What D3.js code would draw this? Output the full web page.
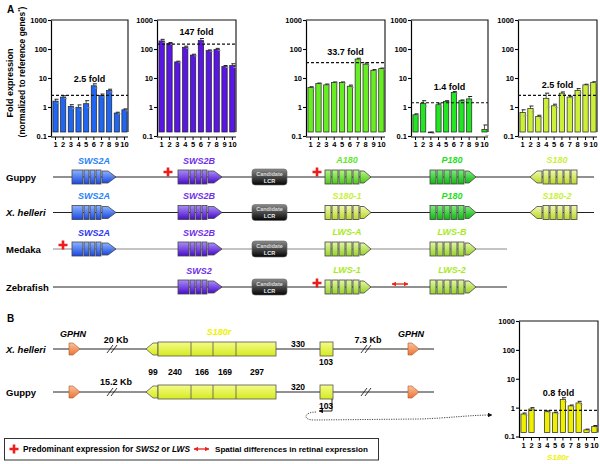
<!DOCTYPE html>
<html><head><meta charset="utf-8">
<script src="https://cdn.jsdelivr.net/npm/d3@7"></script>
<style>
body{margin:0;background:#fff}
svg text{font-family:"Liberation Sans",Arial,sans-serif;font-weight:bold}
</style>
</head><body>
<svg id="fig" width="600" height="464"></svg>
<script>
// ---------------- DATA ----------------
const barLabels = ["1","2","3","4","5","6","7","8","9","10"];
const yTickValues = [0.1, 1, 10, 100, 1000];
const sws2aValues = [1.6, 2.2, 1.05, 0.98, 1.3, 5.4, 2.5, 3.7, 0.62, 0.8];
const sws2aErrors = [0.25, 0.25, 0.15, 0.2, 0.35, 0.9, 0.3, 0.4, 0.04, 0.06];
const sws2bValues = [190, 155, 36, 115, 62, 195, 88, 97, 25, 27];
const sws2bErrors = [25, 12, 2, 10, 4, 35, 5, 8, 2, 4];
const a180Values = [4.7, 6.4, 5.8, 7.0, 7.0, 5.2, 45, 30, 18.5, 21];
const a180Errors = [0.3, 0.3, 0.4, 0.3, 0.3, 0.5, 3, 3, 1, 1];
const p180Values = [0.54, 1.35, 0.13, 1.2, 1.55, 3.2, 1.65, 1.9, null, 0.17];
const p180Errors = [0.04, 0.3, 0.005, 0.15, 0.1, 0.2, 0.1, 0.4, null, 0.07];
const s180Values = [0.65, 0.88, 0.47, 2.0, 1.1, 3.0, 2.2, 3.7, 5.8, 7.1];
const s180Errors = [0.15, 0.2, 0.05, 1.0, 0.15, 0.3, 0.15, 0.6, 0.3, 0.3];
const s180rValues = [0.6, 0.9, null, 0.72, 0.66, 1.9, 1.15, 1.45, 0.17, 0.22];
const s180rErrors = [0.05, 0.1, null, 0.05, 0.04, 0.3, 0.08, 0.2, 0.01, 0.02];
const foldValues = [2.5, 147, 33.7, 1.4, 2.5, 0.8];
const foldLabels = ["2.5 fold", "147 fold", "33.7 fold", "1.4 fold", "2.5 fold", "0.8 fold"];

const speciesA = ["Guppy", "X. helleri", "Medaka", "Zebrafish"];
const sws2GeneNames = [["SWS2A", "SWS2B"], ["SWS2A", "SWS2B"], ["SWS2A", "SWS2B"], [null, "SWS2"]];
const lwsGeneNames = [["A180", "P180", "S180"], ["S180-1", "P180", "S180-2"], ["LWS-A", "LWS-B", null], ["LWS-1", "LWS-2", null]];
const speciesB = ["X. helleri", "Guppy"];
const intronLabels = ["330", "320"];
const distanceLeft = ["20 Kb", "15.2 Kb"];
const distanceRight = ["7.3 Kb", null];
const exonSizes = ["99", "240", "166", "169", "297"];
const lastExonSize = "103";

// ---------------- DRAW ----------------
const svg = d3.select("#fig");
const defs = svg.append("defs");
function grad(id, light, dark) {
  const g = defs.append("linearGradient").attr("id", id).attr("x1", 0).attr("y1", 0).attr("x2", 0).attr("y2", 1);
  g.append("stop").attr("offset", "0%").attr("stop-color", light);
  g.append("stop").attr("offset", "100%").attr("stop-color", dark);
}
grad("gA", "#8cb4ff", "#1a48e0");
grad("gB", "#a88cf8", "#4a0ccc");
grad("gA180", "#b6f486", "#4cc81a");
grad("gP180", "#80ea80", "#10b810");
grad("gS180", "#f0f8b0", "#bcd82a");
grad("gLWS", "#e4f6a6", "#96d22a");
grad("gS180r", "#f4fc8a", "#d6ea1e");
grad("gGPHN", "#fcc09a", "#ee7434");
grad("gLCR", "#8a8a8a", "#050505");
defs.append("marker").attr("id", "ah").attr("viewBox", "0 0 10 10").attr("refX", 9).attr("refY", 5)
  .attr("markerWidth", 5).attr("markerHeight", 5).attr("orient", "auto-start-reverse")
  .append("path").attr("d", "M0,0L10,5L0,10z").attr("fill", "#111");
defs.append("marker").attr("id", "ahr").attr("viewBox", "0 0 10 10").attr("refX", 9).attr("refY", 5)
  .attr("markerWidth", 3.5).attr("markerHeight", 3.5).attr("orient", "auto-start-reverse")
  .append("path").attr("d", "M0,0L10,5L0,10z").attr("fill", "#e8251a");

const charts = [
  {v: sws2aValues, e: sws2aErrors, x0: 51, x1: 128, top: 20, bot: 136, fill: "#1f66f2", ly: 82},
  {v: sws2bValues, e: sws2bErrors, x0: 157, x1: 236, top: 20, bot: 136, fill: "#5a16e4", ly: 35},
  {v: a180Values, e: a180Errors, x0: 306, x1: 385, top: 20, bot: 136, fill: "#66ee22", ly: 55},
  {v: p180Values, e: p180Errors, x0: 411, x1: 488, top: 20, bot: 136, fill: "#22e622", ly: 90},
  {v: s180Values, e: s180Errors, x0: 518, x1: 597, top: 20, bot: 136, fill: "#ccf03a", ly: 88},
  {v: s180rValues, e: s180rErrors, x0: 519, x1: 598, top: 321, bot: 436.5, fill: "#eef000", ly: 396}
];

charts.forEach((c, ci) => {
  const g = svg.append("g");
  const y = d3.scaleLog().domain([0.1, 1000]).range([c.bot, c.top]);
  const x = d3.scaleBand().domain(barLabels).range([c.x0 + 1, c.x1]).paddingInner(0.32).paddingOuter(0.12);
  const base = c.bot - 4;
  g.append("path").attr("d", `M${c.x0},${c.top}H${c.x1}V${base}`).attr("fill", "none").attr("stroke", "#111").attr("stroke-width", 1.1);
  const data = c.v.map((v, i) => ({k: barLabels[i], v, e: c.e[i]})).filter(d => d.v != null);
  g.selectAll("rect.bar").data(data).join("rect").attr("class", "bar")
    .attr("x", d => x(d.k)).attr("width", x.bandwidth())
    .attr("y", d => Math.min(y(d.v), base)).attr("height", d => Math.max(0.8, Math.abs(base - y(d.v))))
    .attr("fill", c.fill).attr("stroke", "#222").attr("stroke-width", 0.7);
  data.forEach(d => {
    const cx = x(d.k) + x.bandwidth() / 2;
    const yt = y(d.v + d.e), yb = y(Math.max(0.105, d.v - d.e));
    g.append("line").attr("x1", cx).attr("x2", cx).attr("y1", y(d.v)).attr("y2", yt).attr("stroke", "#333").attr("stroke-width", 0.8);
    g.append("line").attr("x1", cx - 1).attr("x2", cx + 3).attr("y1", yt).attr("y2", yt).attr("stroke", "#222").attr("stroke-width", 1);
    g.append("line").attr("x1", cx + 1).attr("x2", cx + 4).attr("y1", yb).attr("y2", yb).attr("stroke", "#999").attr("stroke-width", 0.8);
  });
  const ya = g.append("g").attr("transform", `translate(${c.x0},0)`)
    .call(d3.axisLeft(y).tickValues(yTickValues).tickFormat(d3.format("~g")).tickSize(3).tickSizeOuter(0));
  ya.select(".domain").attr("stroke-width", 1.2);
  ya.selectAll(".tick line").attr("stroke-width", 1.1);
  ya.selectAll("text").attr("font-size", 7.5).attr("font-family", "Liberation Sans, Arial, sans-serif").attr("font-weight", "bold").attr("x", -4);
  const xa = g.append("g").attr("transform", `translate(0,${c.bot + 1})`)
    .call(d3.axisBottom(x).tickSize(3).tickSizeOuter(0));
  xa.select(".domain").attr("d", `M${c.x0},0H${c.x1}`).attr("stroke-width", 1.1);
  xa.selectAll(".tick line").attr("stroke-width", 1);
  xa.selectAll("text").attr("font-size", 7.5).attr("font-family", "Liberation Sans, Arial, sans-serif").attr("font-weight", "bold").attr("y", 5);
  g.append("line").attr("x1", c.x0).attr("x2", c.x1).attr("y1", y(foldValues[ci])).attr("y2", y(foldValues[ci]))
    .attr("stroke", "#111").attr("stroke-width", 1.2).attr("stroke-dasharray", "3,2");
  g.append("text").attr("x", (c.x0 + c.x1) / 2).attr("y", c.ly).attr("text-anchor", "middle").attr("font-size", 9).text(foldLabels[ci]);
});
svg.append("text").attr("x", 558).attr("y", 460).attr("text-anchor", "middle").attr("font-size", 8)
  .attr("font-style", "italic").attr("fill", "#eef000").text("S180r");

svg.append("text").attr("x", 7).attr("y", 13).attr("font-size", 10).text("A");
svg.append("text").attr("x", 7).attr("y", 322).attr("font-size", 10).text("B");
svg.append("text").attr("transform", "translate(13,83) rotate(-90)").attr("text-anchor", "middle").attr("font-size", 9).text("Fold expression");
const yt2 = svg.append("text").attr("transform", "translate(24.5,72) rotate(-90)").attr("text-anchor", "middle").attr("font-size", 8.5);
yt2.append("tspan").text("(normalized to reference genes");
yt2.append("tspan").attr("font-size", 6).attr("dy", -3).text("*");
yt2.append("tspan").attr("dy", 3).text(")");

function redCross(x, y) {
  svg.append("path").attr("d", `M${x - 4.5},${y}H${x + 4.5}M${x},${y - 4.5}V${y + 4.5}`).attr("stroke", "#ee1c1c").attr("stroke-width", 2.6);
}
function sws2Glyph(x, y, gid) {
  const g = svg.append("g").attr("stroke", "#444").attr("stroke-width", 0.8).attr("fill", `url(#${gid})`);
  [[0, 11], [12, 5], [18, 5], [24, 5]].forEach(([o, w]) => g.append("rect").attr("x", x + o).attr("y", y - 7).attr("width", w).attr("height", 14));
  g.append("path").attr("d", `M${x + 30},${y - 6}H${x + 36}L${x + 44},${y}L${x + 36},${y + 6}H${x + 30}Z`);
}
function lwsGlyph(x, y, gid, dir) {
  const g = svg.append("g").attr("stroke", "#444").attr("stroke-width", 0.8).attr("fill", `url(#${gid})`);
  if (dir > 0) {
    for (let i = 0; i < 5; i++) g.append("rect").attr("x", x + i * 7).attr("y", y - 7).attr("width", 6).attr("height", 14);
    g.append("path").attr("d", `M${x + 35},${y - 6}H${x + 39}L${x + 46},${y}L${x + 39},${y + 6}H${x + 35}Z`);
  } else {
    g.append("path").attr("d", `M${x},${y}L${x + 7},${y - 6}H${x + 12}V${y + 6}H${x + 7}Z`);
    for (let i = 0; i < 5; i++) g.append("rect").attr("x", x + 13 + i * 7).attr("y", y - 7).attr("width", 6).attr("height", 14);
  }
}
function lcr(x, y) {
  svg.append("rect").attr("x", x).attr("y", y - 8).attr("width", 35).attr("height", 16).attr("rx", 3)
    .attr("fill", "url(#gLCR)").attr("stroke", "#666").attr("stroke-width", 0.6);
  svg.append("text").attr("x", x + 17.5).attr("y", y - 1.5).attr("text-anchor", "middle").attr("font-size", 5.5).attr("fill", "#ddd").text("Candidate");
  svg.append("text").attr("x", x + 17.5).attr("y", y + 5.5).attr("text-anchor", "middle").attr("font-size", 5.5).attr("fill", "#eee").text("LCR");
}
function geneLabel(x, y, t, col) {
  svg.append("text").attr("x", x).attr("y", y).attr("text-anchor", "middle").attr("font-size", 9)
    .attr("font-style", "italic").attr("fill", col).text(t);
}

const rowY = [177, 212.5, 249, 287];
const lineEnd = [594, 594, 507, 507];
const lineCol = ["#222", "#222", "#888", "#222"];
const sws2aCol = ["#2a82f5", "#2a82f5", "#3038f0"];
const lwsGrad = [["gA180", "gP180", "gS180"], ["gS180", "gP180", "gS180"], ["gLWS", "gLWS"], ["gLWS", "gLWS"]];
const lwsCol = [["#5ee82a", "#22e020", "#c8f03a"], ["#c8f03a", "#22e020", "#c8f03a"], ["#a8ea22", "#a8ea22"], ["#a8ea22", "#a8ea22"]];
speciesA.forEach((sp, i) => {
  const y = rowY[i];
  svg.append("line").attr("x1", 53).attr("x2", lineEnd[i]).attr("y1", y).attr("y2", y).attr("stroke", lineCol[i]).attr("stroke-width", 1);
  const t = svg.append("text").attr("x", 6).attr("y", y + 3.5).attr("font-size", 9.5).text(sp);
  if (sp.startsWith("X.")) t.attr("font-style", "italic");
  const [a, b] = sws2GeneNames[i];
  if (a) { sws2Glyph(72, y, "gA"); geneLabel(94, y - 13.5, a, sws2aCol[i]); }
  if (b) { sws2Glyph(178, y, "gB"); geneLabel(199, y - 13.5, b, "#7030e8"); }
  lcr(252, y);
  const L = lwsGeneNames[i];
  lwsGlyph(325, y, lwsGrad[i][0], 1); geneLabel(347, y - 14, L[0], lwsCol[i][0]);
  lwsGlyph(430, y, lwsGrad[i][1], 1); geneLabel(452, y - 14, L[1], lwsCol[i][1]);
  if (L[2]) { lwsGlyph(530, y, lwsGrad[i][2], -1); geneLabel(557, y - 14, L[2], lwsCol[i][2]); }
});
redCross(168, 172);
redCross(63, 245);
redCross(317, 172);
redCross(317, 283);
svg.append("line").attr("x1", 392).attr("x2", 408).attr("y1", 284).attr("y2", 284).attr("stroke", "#e8251a").attr("stroke-width", 1.3)
  .attr("marker-start", "url(#ahr)").attr("marker-end", "url(#ahr)");

const rowYB = [349, 392];
function slashes(x, y) {
  svg.append("path").attr("d", `M${x - 6},${y + 4}L${x},${y - 4}M${x - 2},${y + 4}L${x + 4},${y - 4}`)
    .attr("stroke", "#222").attr("stroke-width", 0.9).attr("fill", "none");
}
function gphn(x, y) {
  svg.append("path").attr("d", `M${x},${y - 6}H${x + 4}L${x + 11},${y}L${x + 4},${y + 6}H${x}Z`)
    .attr("fill", "url(#gGPHN)").attr("stroke", "#a05a30").attr("stroke-width", 0.6);
}
speciesB.forEach((sp, i) => {
  const y = rowYB[i];
  svg.append("line").attr("x1", 53).attr("x2", 434).attr("y1", y).attr("y2", y).attr("stroke", "#222").attr("stroke-width", 1);
  const t = svg.append("text").attr("x", 6).attr("y", y + 3.5).attr("font-size", 9.5).text(sp);
  if (sp.startsWith("X.")) t.attr("font-style", "italic");
  gphn(69, y); gphn(408, y);
  slashes(113, y); slashes(367, y);
  svg.append("text").attr("x", 116).attr("y", y - (i ? 7 : 6)).attr("text-anchor", "middle").attr("font-size", 9).text(distanceLeft[i]);
  if (distanceRight[i]) svg.append("text").attr("x", 368).attr("y", y - 6).attr("text-anchor", "middle").attr("font-size", 9).text(distanceRight[i]);
  const g = svg.append("g").attr("stroke", "#555").attr("stroke-width", 0.8).attr("fill", "url(#gS180r)");
  g.append("path").attr("d", `M146,${y}L153,${y - 6}H158V${y + 6}H153Z`);
  g.append("rect").attr("x", 158).attr("y", y - 7).attr("width", 118).attr("height", 14);
  [191, 213, 236].forEach(xx => g.append("line").attr("x1", xx).attr("x2", xx).attr("y1", y - 7).attr("y2", y + 7));
  g.append("rect").attr("x", 320).attr("y", y - 7).attr("width", 13).attr("height", 14);
  svg.append("text").attr("x", 298).attr("y", y - 2).attr("text-anchor", "middle").attr("font-size", 8.5).text(intronLabels[i]);
});
svg.append("text").attr("x", 219).attr("y", 335).attr("text-anchor", "middle").attr("font-size", 9)
  .attr("font-style", "italic").attr("fill", "#eef000").text("S180r");
[[73, 337], [411, 337]].forEach(([x, y]) => svg.append("text").attr("x", x).attr("y", y).attr("text-anchor", "middle")
  .attr("font-size", 9).attr("font-style", "italic").text("GPHN"));
const exonX = [153, 175, 202, 225, 257];
exonSizes.forEach((s, i) => svg.append("text").attr("x", exonX[i]).attr("y", 375).attr("text-anchor", "middle").attr("font-size", 8.5).text(s));
svg.append("text").attr("x", 326).attr("y", 365).attr("text-anchor", "middle").attr("font-size", 8.5).text(lastExonSize);
svg.append("text").attr("x", 326).attr("y", 409).attr("text-anchor", "middle").attr("font-size", 8.5).text(lastExonSize);
svg.append("path").attr("d", "M332,399V411H319").attr("fill", "none").attr("stroke", "#111").attr("stroke-width", 0.9).attr("marker-end", "url(#ah)");
svg.append("path").attr("d", "M316,412C304,412 302,420 314,420L420,419C450,418 470,415 492,415")
  .attr("fill", "none").attr("stroke", "#333").attr("stroke-width", 0.9).attr("stroke-dasharray", "1.2,1.2").attr("marker-end", "url(#ah)");

svg.append("rect").attr("x", 4.5).attr("y", 438.5).attr("width", 374).attr("height", 21.5).attr("fill", "none").attr("stroke", "#333").attr("stroke-width", 1);
redCross(14, 449);
const lt = svg.append("text").attr("x", 23).attr("y", 452).attr("font-size", 8.3);
lt.append("tspan").text("Predominant expression for ");
lt.append("tspan").attr("font-style", "italic").text("SWS2");
lt.append("tspan").text(" or ");
lt.append("tspan").attr("font-style", "italic").text("LWS");
svg.append("line").attr("x1", 194).attr("x2", 209).attr("y1", 449).attr("y2", 449).attr("stroke", "#e8251a").attr("stroke-width", 1.3)
  .attr("marker-start", "url(#ahr)").attr("marker-end", "url(#ahr)");
svg.append("text").attr("x", 215).attr("y", 452).attr("font-size", 8.1).text("Spatial differences in retinal expression");
</script>
</body></html>
